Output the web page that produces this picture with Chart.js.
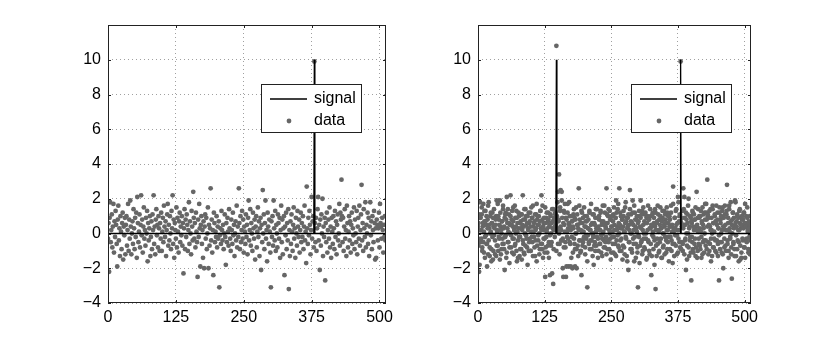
<!DOCTYPE html>
<html>
<head>
<meta charset="utf-8">
<script src="https://cdn.jsdelivr.net/npm/chart.js@4/dist/chart.umd.min.js"></script>
<style>
  html, body { margin: 0; padding: 0; background: #fff; }
  #wrap { position: relative; width: 830px; height: 341px; }
  canvas { position: absolute; top: 0; }
  #left { left: 0; }
  #right { left: 415px; }
</style>
</head>
<body>
<div id="wrap">
  <canvas id="left" width="415" height="341"></canvas>
  <canvas id="right" width="415" height="341"></canvas>
</div>
<script>
// ---------- axes ----------
const X_TICKS = [0, 125, 250, 375, 500];
const Y_TICKS = [-4, -2, 0, 2, 4, 6, 8, 10];
const X_MAX = 512;
const Y_MIN = -4, Y_MAX = 12;

// ---------- signal (sample index, value) ----------
const signalLeftX  = [0, 379, 380, 381, 511];
const signalLeftY  = [0, 0, 10, 0, 0];
const signalRightX = [0, 146, 147, 148, 379, 380, 381, 511];
const signalRightY = [0, 0, 10, 0, 0, 10, 0, 0];

// ---------- measured data, first 512 samples (left and right panel) ----------
const dataA = [
  -0.3, 0.6, -2.2, 0.9, 1.8, -0.5, 0.2, 1.1, -0.8, 0.4, 1.7, -1.1, 0.7, -0.2, 1.3, 0.5,
  -0.6, -1.9, 0.8, 1.6, -0.4, 0.3, -1.3, 1.0, 0.1, -0.9, 0.6, 1.2, -1.5, 0.4, -0.1, 0.9,
  -1.2, 0.5, 1.0, -0.7, 0.2, 1.7, -1.0, 0.8, -0.3, 1.9, 0.4, -1.2, 0.0, 0.7, -0.6, 1.4,
  0.3, -0.9, 0.9, -0.2, 1.2, -1.4, 2.1, 0.6, -0.5, 0.1, 1.1, -0.8, 0.5, 2.2, -0.1, 0.8,
  -1.1, 0.4, 1.5, -0.3, 0.2, -0.7, 0.9, 0.0, 1.3, -1.6, 0.6, -0.4, 0.3, 1.0, -1.3, -0.2,
  0.7, -0.9, 1.1, 0.2, 2.2, -0.6, 0.4, -1.2, 0.8, 1.4, -0.1, 0.5, -0.8, 1.0, 0.3, -1.0,
  0.6, -0.3, 1.2, -1.0, 0.1, 0.9, -0.5, 1.6, 0.4, -0.2, 0.7, -1.3, 0.2, 1.1, 1.7, -0.7,
  0.5, -0.4, 1.0, 0.0, -0.9, 1.3, 0.3, 2.2, -0.6, 0.8, -1.4, 0.6, 0.2, -0.3, 1.5, -0.8,
  0.9, 0.1, -1.1, 0.7, 1.2, -0.5, 0.4, -0.1, 1.0, -0.7, 0.6, -2.3, 0.3, 1.4, -0.9, 0.8,
  -0.2, 1.1, 0.5, -1.0, 0.2, 1.8, -0.6, 0.7, 0.0, -1.2, 1.3, 0.4, -0.4, 2.4, 0.9, -0.3,
  0.6, -0.8, 1.2, 0.1, -0.5, -2.5, 0.8, -0.2, 1.7, 0.3, -1.9, 0.5, 1.0, -0.6, 0.2, -1.4,
  0.7, -2.0, 0.4, 1.1, -0.3, 0.9, -0.9, 0.0, 1.5, -2.0, 0.5, -0.7, 0.3, 2.6, -0.4, 0.8,
  -1.1, 0.2, -2.4, 1.2, 0.6, -0.5, 0.1, -0.2, 1.0, -0.8, 0.4, -0.3, 0.7, -3.1, -0.1, 0.3,
  -0.6, 1.3, 0.2, -0.4, 0.5, -0.9, 0.0, 1.1, -0.2, -1.8, 0.6, -0.5, 0.9, 0.1, -0.7, 1.4,
  0.3, -0.3, -1.0, 0.8, 0.2, -0.6, 1.2, -0.1, 0.5, -1.3, 0.0, 0.7, -0.4, 1.6, -0.8, 0.4,
  -0.2, 2.6, 0.6, -0.9, 1.0, -0.5, 0.2, 1.3, -0.3, 0.8, -1.1, 0.4, 0.1, -0.6, 1.1, -0.2,
  0.5, -1.2, 0.9, 1.9, -0.4, 0.2, 1.4, -0.7, 0.6, 0.0, -1.0, 1.2, 0.3, -0.3, 0.8, -1.5,
  0.4, 1.0, -0.8, 0.1, 1.5, -0.2, 0.7, -1.3, 0.3, 0.9, -2.1, 0.5, -0.5, 2.5, 0.0, 1.1,
  -0.9, 0.6, 1.9, -0.3, 0.2, -1.6, 1.2, 0.4, -0.6, 0.8, 0.1, -1.1, -3.1, 0.7, -0.2, 1.0,
  -0.7, 1.9, 0.3, -0.4, 1.3, -1.0, 0.5, 0.0, -0.8, 1.1, 0.6, -0.3, 0.9, -1.4, 0.2, 1.6,
  -0.5, 0.8, -1.2, 0.3, 1.0, -2.4, 0.4, -0.1, 1.2, -0.9, 0.6, -0.4, 1.4, -3.2, 0.2, -1.3,
  0.7, -0.6, 1.1, 0.1, -1.0, 0.5, 1.5, -0.3, 0.3, -1.4, 0.9, 0.0, -0.7, 1.3, 0.4, -0.2,
  0.8, -1.1, 0.2, 1.2, -0.5, 0.6, -0.2, 1.0, -0.9, 0.4, 1.6, -0.4, 0.1, -1.7, 2.7, 0.3,
  -0.6, 0.9, -0.1, 1.3, 0.5, -1.2, 0.2, 2.1, -0.3, 0.7, 1.0, -0.8, 9.9, 0.6, -0.5, 0.9,
  -1.0, 0.3, 1.4, 2.1, -0.4, 0.5, -2.1, 0.8, -0.7, 1.1, 0.0, 2.0, -1.3, 0.4, -0.2, 0.9,
  -2.7, 0.6, -0.5, 1.2, -1.1, 0.2, 0.8, -0.3, 1.5, -0.8, 0.4, -1.4, 0.9, 0.1, -0.6, 1.0,
  0.3, -0.9, 1.3, -0.2, 0.7, -1.2, 0.5, 1.1, -0.4, 0.0, 1.7, -0.7, 1.2, 0.8, 3.1, 1.0,
  -0.5, 0.9, -1.0, 0.4, 1.4, -0.3, 0.2, -1.3, 1.6, 0.6, -0.8, 0.1, 1.0, -0.4, 0.7, -1.1,
  0.5, 1.2, -0.6, 0.3, -0.1, 1.5, -0.9, 0.8, 0.0, -0.5, 1.3, -1.2, 0.4, 0.9, -0.3, 1.6,
  -0.7, 0.2, 1.1, 2.8, -0.4, 0.6, -1.0, 1.4, 0.3, -0.2, 1.8, -0.8, 0.5, 0.0, 1.2, -0.6,
  0.9, -1.3, 0.4, 1.8, -0.1, 0.7, -0.9, 1.0, 0.2, -0.5, 1.3, 0.6, -1.5, 0.3, -1.4, 0.8,
  0.5, -0.4, 0.3, 1.2, -0.8, 1.7, 0.6, 0.4, -0.3, 0.9, 0.2, -1.1, 0.5, -0.2, 1.0, -0.4
];

// ---------- extra 512 samples, right panel only ----------
const dataB = [
  0.4, -0.7, 1.1, -1.8, 0.2, 0.9, -0.3, 1.5, -1.0, 0.6, -0.5, 0.1, 1.3, -1.4, 0.7, -0.1,
  1.0, -0.6, 0.3, -1.2, 1.8, 0.5, -0.8, 0.0, 1.2, -1.6, 0.6, -0.2, 0.9, -1.0, 1.4, 0.3,
  -0.4, 0.8, -1.3, 1.9, 0.1, -0.7, 1.0, -0.2, 0.5, -1.5, 1.2, 0.2, -0.9, 0.7, -0.3, 1.6,
  -0.6, 0.4, -2.1, 1.1, -0.1, 0.8, -1.1, 0.3, 1.4, -0.5, 0.6, -1.7, 0.0, 1.0, -0.8, 0.5,
  1.3, -0.3, 0.7, -1.2, 0.2, 1.6, -0.6, 0.4, -1.0, 0.9, 0.1, -1.4, 1.2, -0.2, 0.6, -0.9,
  0.3, 1.1, -1.5, 0.5, -0.4, 0.8, -1.1, 1.4, 0.0, -0.7, 1.0, -0.3, 0.6, -1.8, 0.2, 1.2,
  -0.5, 0.7, -1.0, 0.4, 1.5, -0.2, 0.9, -1.3, 0.1, 0.6, -0.8, 1.1, -0.4, 0.3, -1.6, 0.8,
  1.0, -0.1, 0.5, -1.2, 0.7, 1.3, -0.6, 0.2, -0.9, 1.6, 0.4, -0.3, 0.9, -1.1, -2.5, 0.6,
  -0.2, 1.2, 0.3, -0.7, 0.8, -1.4, 0.5, -2.4, 1.1, 0.0, -0.5, 1.4, 0.7, -2.9, 0.2, 0.9,
  0.4, 1.2, 0.6, 10.8, 1.0, 0.3, 2.4, 0.8, 3.4, -0.6, 1.5, 2.5, 0.2, 1.9, -0.4, -2.0,
  -2.5, 1.3, 0.5, 1.7, -0.8, 0.9, -1.9, 0.1, 1.2, -0.3, 0.6, 1.8, -0.5, 0.4, -1.9, 1.0,
  -0.2, 0.7, -1.1, 0.3, 1.4, -0.6, -1.9, 0.8, 0.0, -0.9, 1.1, 0.5, -1.3, 0.2, 1.6, -0.4,
  0.6, -1.0, 1.3, 0.1, -0.7, 0.9, -0.3, 1.5, 0.4, -1.2, 0.7, -0.1, 1.0, -1.6, 0.3, 0.8,
  -0.5, 1.2, -0.9, 0.2, 1.7, -0.4, 0.6, -1.3, 0.0, 1.1, -0.7, 0.5, -1.0, 1.4, 0.3, -0.2,
  0.9, -1.4, 0.4, 1.0, -0.6, 0.2, 1.3, -1.1, 0.7, -0.3, 1.6, 0.1, -0.8, 0.5, 1.2, -0.5,
  0.3, -1.2, 1.1, 0.6, -0.4, 1.4, -0.9, 0.0, 0.8, -1.5, 0.4, 1.0, -0.2, 0.7, -1.1, 1.5,
  0.2, -0.6, 0.9, -1.3, 1.2, 0.4, -0.1, 1.7, -0.8, 2.6, 0.5, -0.4, 1.0, -1.0, 0.3, 0.8,
  -0.7, 1.3, 0.1, -1.2, 0.6, 1.8, -0.3, 0.9, -1.6, 0.4, 1.1, -0.5, 0.2, 1.4, -0.9, 0.7,
  0.0, -1.1, 1.2, 0.5, -0.6, 1.6, -0.2, 0.8, -1.4, 0.3, 1.0, -0.8, 0.6, -0.1, 1.3, -1.7,
  0.4, 0.9, -0.5, 1.1, -1.2, 0.2, 1.5, -0.3, 0.7, -0.9, 1.2, 0.0, -1.5, 0.6, 1.0, -0.4,
  0.8, -1.0, 0.3, 1.4, -0.6, 0.5, -1.3, 1.1, 0.1, -0.2, 0.9, -1.8, 0.4, 1.2, -0.7, 0.6,
  -0.3, 1.6, 0.2, -1.1, 0.8, -0.5, 1.0, 0.3, -1.4, 0.7, 1.3, -0.8, 0.0, 0.5, -1.2, 1.1,
  0.6, -0.4, 1.5, -0.9, 0.2, 1.0, -1.6, 0.4, 0.8, -0.2, 1.2, -1.0, 0.5, -0.6, 1.7, 0.1,
  -1.3, 0.9, 0.3, -0.7, 1.4, -0.1, 0.6, -1.1, 1.8, 0.2, -0.5, 1.1, 0.7, -0.9, 0.4, 1.3,
  -0.6, 2.6, 0.5, -1.2, 0.9, -0.3, 1.2, 0.0, -1.5, 0.6, 1.6, -0.8, 0.3, -0.4, 1.0, -1.1,
  0.7, -0.2, 1.3, -0.9, 0.4, 1.1, -0.6, 0.8, -1.3, 0.2, 2.4, 0.5, -1.0, 1.4, -0.3, 0.9,
  -0.7, 1.0, 0.1, -1.4, 0.6, 1.5, -0.5, 0.3, -1.1, 1.2, 0.8, -0.4, 1.7, -0.9, 0.4, 1.1,
  -1.2, 0.5, 1.3, -0.6, 0.2, -1.6, 0.9, 0.0, 1.4, -0.8, 0.6, -0.3, 1.1, -1.0, 0.7, 1.6,
  -0.4, 0.8, -1.3, 0.3, -2.7, 1.2, -0.5, 0.6, 1.0, -1.1, 0.2, 1.5, -2.0, 0.4, -0.8, 1.1,
  0.5, -1.0, 1.3, 0.2, -0.6, 0.9, -1.4, 1.6, 0.1, -0.3, 0.7, -1.2, -2.6, 0.8, 1.2, -0.5,
  0.3, -0.9, 1.9, 0.6, -1.3, 0.4, 1.1, -0.4, 0.9, -1.6, 0.2, 1.4, -0.7, 0.5, -1.1, 1.0,
  -0.3, 0.8, 1.2, -0.8, 0.6, -1.4, 0.4, 1.0, -0.5, 1.5, 0.1, -0.9, 0.7, 0.3, -1.2, 0.5
];

// ---------- style ----------
const FONT = { family: '"Liberation Sans", Arial, Helvetica, sans-serif', size: 16 };
const DOT_COLOR = '#666666';
const BOX_COLOR = '#222';

const toPts = (xs, ys) => xs.map((x, i) => ({ x, y: ys[i] }));
const idxPts = (ys) => ys.map((y, i) => ({ x: i, y }));

// box on all four sides, inward ticks, and the legend box
const framePlugin = {
  id: 'frame',
  afterDatasetsDraw(chart, args, opts) {
    const { ctx, chartArea: a, scales } = chart;
    ctx.save();
    ctx.strokeStyle = BOX_COLOR;
    ctx.lineWidth = 1;
    ctx.strokeRect(a.left + 0.5, a.top + 0.5, a.right - a.left - 1, a.bottom - a.top - 1);
    // inward ticks
    const tl = 3;
    ctx.beginPath();
    X_TICKS.forEach(v => {
      const px = Math.round(scales.x.getPixelForValue(v)) + 0.5;
      ctx.moveTo(px, a.bottom); ctx.lineTo(px, a.bottom - tl);
      ctx.moveTo(px, a.top); ctx.lineTo(px, a.top + tl);
    });
    Y_TICKS.forEach(v => {
      const py = Math.round(scales.y.getPixelForValue(v)) + 0.5;
      ctx.moveTo(a.left, py); ctx.lineTo(a.left + tl, py);
      ctx.moveTo(a.right, py); ctx.lineTo(a.right - tl, py);
    });
    ctx.stroke();

    // legend
    const lx = opts.x, ly = 84, lw = 100, lh = 48;
    ctx.fillStyle = '#fff';
    ctx.fillRect(lx, ly, lw, lh);
    ctx.strokeStyle = BOX_COLOR;
    ctx.strokeRect(lx + 0.5, ly + 0.5, lw, lh);
    ctx.strokeStyle = '#000';
    ctx.lineWidth = 1.5;
    ctx.beginPath();
    ctx.moveTo(lx + 9, ly + 15); ctx.lineTo(lx + 46, ly + 15);
    ctx.stroke();
    ctx.fillStyle = DOT_COLOR;
    ctx.beginPath();
    ctx.arc(lx + 28, ly + 37, 2.4, 0, Math.PI * 2);
    ctx.fill();
    ctx.fillStyle = '#000';
    ctx.font = `${FONT.size}px ${FONT.family}`;
    ctx.textBaseline = 'middle';
    ctx.fillText('signal', lx + 53, ly + 15);
    ctx.fillText('data', lx + 53, ly + 37);
    ctx.restore();
  }
};

function makePanel(canvas, sigX, sigY, dataPts, yAxisWidth, rightPad, legendX) {
  return new Chart(canvas, {
    type: 'scatter',
    data: {
      datasets: [
        {
          label: 'signal',
          type: 'line',
          data: toPts(sigX, sigY),
          borderColor: '#000',
          borderWidth: 1.3,
          pointRadius: 0,
          tension: 0,
          showLine: true,
        },
        {
          label: 'data',
          data: dataPts,
          backgroundColor: DOT_COLOR,
          borderWidth: 0,
          pointRadius: 2.4,
          pointHoverRadius: 2.4,
        },
      ],
    },
    options: {
      responsive: false,
      animation: false,
      devicePixelRatio: 1,
      layout: { padding: { top: 25, right: rightPad, bottom: 0, left: 0 } },
      plugins: {
        legend: { display: false },
        tooltip: { enabled: false },
        frame: { x: legendX },
      },
      scales: {
        x: {
          type: 'linear',
          min: 0, max: X_MAX,
          afterBuildTicks: s => { s.ticks = X_TICKS.map(v => ({ value: v })); },
          afterFit: s => { s.height = 38; },
          grid: { color: '#a0a0a0', lineWidth: 1, drawTicks: false },
          border: { display: false, dash: [1, 3] },
          ticks: { font: FONT, color: '#000', padding: 5, maxRotation: 0 },
        },
        y: {
          min: Y_MIN, max: Y_MAX,
          afterBuildTicks: s => { s.ticks = Y_TICKS.map(v => ({ value: v })); },
          afterFit: s => { s.width = yAxisWidth; },
          grid: { color: '#a0a0a0', lineWidth: 1, drawTicks: false },
          border: { display: false, dash: [1, 3] },
          ticks: {
            font: FONT, color: '#000', padding: 7,
            callback: v => (v < 0 ? '\u2212' + Math.abs(v) : String(v)),
          },
        },
      },
    },
    plugins: [framePlugin],
  });
}

makePanel(document.getElementById('left'), signalLeftX, signalLeftY,
  idxPts(dataA), 108, 29, 261);
makePanel(document.getElementById('right'), signalRightX, signalRightY,
  idxPts(dataA).concat(idxPts(dataB)), 63, 79, 216);
</script>
</body>
</html>
